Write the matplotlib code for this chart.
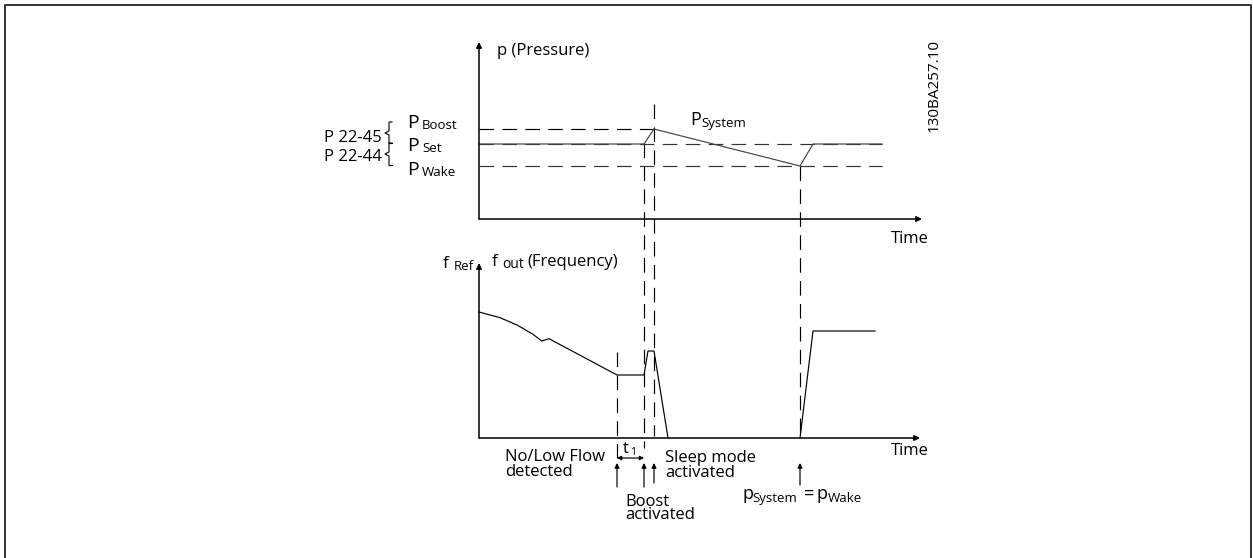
import matplotlib
matplotlib.use("Agg")
import matplotlib.pyplot as plt
from matplotlib import transforms

plt.rcParams['font.family'] = ['Open Sans', 'DejaVu Sans']
plt.rcParams['lines.scale_dashes'] = False

# --- pressure panel (time units, pressure units) ---
p_boost = 90
p_set = 75
p_wake = 53
p_ref_end = 403
p_system_t = [0, 165, 175, 321, 334, 403]
p_system_v = [75, 75, 90, 53, 75, 75]

# --- frequency panel ---
f_out_t = [0, 21, 38, 54, 62.7, 70, 138, 165, 169, 175, 189]
f_out_v = [126, 120.3, 113, 103.7, 97, 99.3, 63, 63, 87, 87, 0]
f_wake_t = [321, 334, 396]
f_wake_v = [0, 107, 107]

# --- events on the time axis ---
t_no_flow = 138
t_boost = 165
t_peak = 175
t_wake = 321

W, H = 1253, 558
fig = plt.figure(figsize=(W / 100, H / 100), dpi=100)

ov = fig.add_axes([0, 0, 1, 1])
ov.set_xlim(0, W)
ov.set_ylim(H, 0)
ov.axis('off')


def panel(left, right, top, bottom, xmax, ymax):
    ax = fig.add_axes([left / W, (H - bottom) / H, (right - left) / W, (bottom - top) / H])
    ax.set_xlim(0, xmax)
    ax.set_ylim(0, ymax)
    ax.axis('off')
    arrow = dict(arrowstyle='-|>', lw=1.1, color='black', mutation_scale=8,
                 shrinkA=0, shrinkB=0)
    ax.annotate('', xy=(1, 0), xytext=(0, 0), xycoords='axes fraction', arrowprops=arrow,
                annotation_clip=False)
    ax.annotate('', xy=(0, 1), xytext=(0, 0), xycoords='axes fraction', arrowprops=arrow,
                annotation_clip=False)
    return ax


ax_p = panel(479, 922, 42, 219, 443, 177)
ax_f = panel(479, 920, 263, 438, 441, 175)

DASH = (0, (10.5, 6))
lw = 0.85

# pressure reference levels
ax_p.plot([0, t_peak], [p_boost, p_boost], color='black', lw=lw, linestyle=DASH, clip_on=False)
ax_p.plot([0, p_ref_end], [p_set, p_set], color='#333333', lw=lw, linestyle=DASH, clip_on=False)
ax_p.plot([0, p_ref_end], [p_wake, p_wake], color='#333333', lw=lw, linestyle=DASH, clip_on=False)
ax_p.plot(p_system_t, p_system_v, color='#444444', lw=lw, clip_on=False)

# frequency
ax_f.plot(f_out_t, f_out_v, color='black', lw=lw, clip_on=False)
ax_f.plot(f_wake_t, f_wake_v, color='black', lw=lw, clip_on=False)

# event markers spanning both panels
tx = transforms.blended_transform_factory(ax_p.transData, ov.transData)
for t, y0, y1 in [(t_no_flow, 352, 458), (t_boost, 143, 448), (t_peak, 104, 436), (t_wake, 166, 438)]:
    ov.plot([t, t], [y0, y1], color='black', lw=lw, linestyle=DASH, transform=tx, clip_on=False)

up = dict(arrowstyle='-|>', lw=0.85, color='black', mutation_scale=7, shrinkA=0, shrinkB=0)
for t, y0 in [(t_no_flow, 487), (t_boost, 487), (t_peak, 483), (t_wake, 485)]:
    ov.annotate('', xy=(t, 463), xytext=(t, y0), xycoords=tx, textcoords=tx, arrowprops=up)

# t1 interval
ov.annotate('', xy=(t_boost, 458), xytext=(t_no_flow, 458), xycoords=tx, textcoords=tx,
            arrowprops=dict(arrowstyle='<|-|>', lw=0.85, color='black', mutation_scale=6,
                            shrinkA=0, shrinkB=0))

# parameter braces
for y_top, y_mid, y_bot in [(122, 133, 143), (143, 154, 165)]:
    ov.plot([392, 389, 389, 385, 389, 389], [y_top, y_top, y_mid - 2, y_mid, y_mid + 2, y_bot],
            color='black', lw=0.8)
ov.plot([389, 392], [165, 165], color='black', lw=0.8)
ov.plot([389, 392], [143, 143], color='black', lw=0.8)

# frame
ov.plot([5, 5, 1251, 1251], [558, 5, 5, 558], color='#333333', lw=1.4)


def txt(x, y, s, size=12, **kw):
    ov.text(x, y, s, fontsize=size, va='baseline', ha=kw.pop('ha', 'left'), **kw)


txt(497, 55, 'p (Pressure)')
txt(891, 243, 'Time')
txt(891, 455, 'Time')
ov.text(934, 86, '130BA257.10', fontsize=11, rotation=90, ha='center', va='center')

txt(382, 142, 'P 22-45', ha='right')
txt(382, 161, 'P 22-44', ha='right')
for y, sub in [(128, 'Boost'), (151, 'Set'), (175, 'Wake')]:
    txt(407, y, 'P', size=14)
    txt(422, y + 1, sub, size=9.5)

txt(690, 125, 'P', size=13)
txt(701, 127, 'System', size=9.5)

txt(443, 268, 'f', size=12.5)
txt(454, 270, 'Ref', size=9.5)
txt(492, 266, 'f', size=12.5)
txt(502, 268, 'out', size=10)
txt(527, 266, '(Frequency)')

txt(505, 476, 'No/Low Flow\ndetected', linespacing=0.9)
txt(623, 453, 't', size=12)
txt(630, 455, '1', size=7.5)
txt(665, 477, 'Sleep mode\nactivated', linespacing=0.9)
txt(625, 519, 'Boost\nactivated', linespacing=0.72)

txt(742, 499, 'p', size=13)
txt(752, 502, 'System', size=9.5)
txt(804, 499, '=', size=13)
txt(817, 499, 'p', size=13)
txt(828, 502, 'Wake', size=9.5)

fig.savefig('out.png', dpi=100)
